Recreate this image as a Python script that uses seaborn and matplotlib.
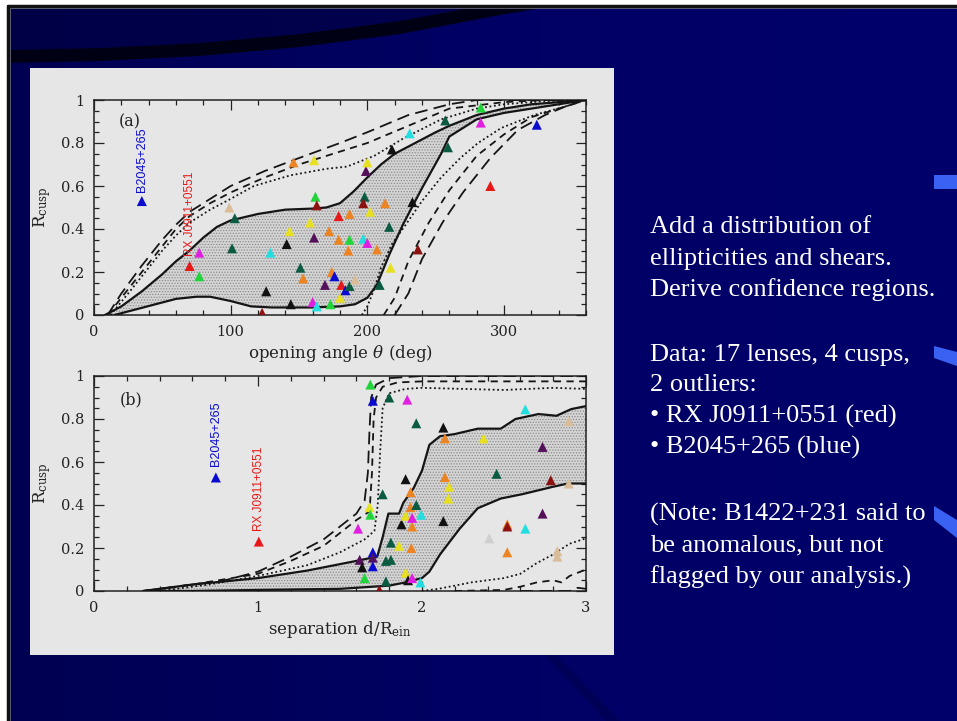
import numpy as np
import pandas as pd
import matplotlib
matplotlib.use("Agg")
import matplotlib.pyplot as plt
from matplotlib.patches import Rectangle, Polygon
from matplotlib.ticker import MultipleLocator
import seaborn as sns

# ---------------- data: panel (a), opening angle ----------------
theta_upper_solid = [8, 20, 35, 50, 60, 70, 80, 90, 100, 120, 140, 160, 170, 180, 190, 200, 210, 220, 235, 250, 260, 280, 300, 320, 340, 360]
r_upper_solid = [0.0, 0.04, 0.11, 0.19, 0.25, 0.30, 0.36, 0.41, 0.44, 0.47, 0.49, 0.495, 0.50, 0.52, 0.575, 0.64, 0.70, 0.75, 0.80, 0.85, 0.88, 0.93, 0.96, 0.98, 0.99, 1.0]
theta_lower_solid = [15, 30, 45, 60, 75, 85, 100, 115, 130, 160, 180, 191, 200, 207, 216, 226, 240, 254, 260, 280, 300, 330, 360]
r_lower_solid = [0.0, 0.025, 0.05, 0.075, 0.085, 0.085, 0.065, 0.04, 0.035, 0.035, 0.04, 0.05, 0.08, 0.14, 0.28, 0.42, 0.59, 0.75, 0.83, 0.91, 0.94, 0.97, 1.0]

theta_dot_up = [12, 25, 35, 50, 60, 70, 85, 100, 117, 144, 170, 185, 205, 226, 254, 280, 300, 330, 360]
r_dot_up = [0.0, 0.10, 0.18, 0.30, 0.37, 0.43, 0.49, 0.54, 0.60, 0.65, 0.68, 0.69, 0.74, 0.82, 0.91, 0.96, 0.98, 0.995, 1.0]
theta_sdash_up = [10, 20, 35, 50, 60, 70, 85, 100, 125, 150, 180, 200, 230, 260, 300, 330, 360]
r_sdash_up = [0.0, 0.08, 0.20, 0.32, 0.40, 0.46, 0.52, 0.57, 0.64, 0.70, 0.76, 0.80, 0.88, 0.96, 0.99, 1.0, 1.0]
theta_ldash_up = [10, 20, 35, 50, 60, 70, 85, 100, 125, 150, 180, 200, 230, 260, 280, 330, 360]
r_ldash_up = [0.0, 0.10, 0.23, 0.35, 0.42, 0.48, 0.54, 0.60, 0.67, 0.73, 0.80, 0.85, 0.93, 0.98, 1.0, 1.0, 1.0]

theta_dot_lo = [196, 200, 205, 210, 218, 227, 240, 254, 268, 281, 298, 322, 345, 360]
r_dot_lo = [0.0, 0.04, 0.12, 0.22, 0.33, 0.41, 0.53, 0.64, 0.73, 0.80, 0.87, 0.93, 0.97, 1.0]
theta_sdash_lo = [212, 220, 230, 245, 260, 280, 300, 320, 340, 355]
r_sdash_lo = [0.0, 0.08, 0.25, 0.43, 0.58, 0.74, 0.84, 0.92, 0.96, 0.99]
theta_ldash_lo = [220, 230, 240, 255, 270, 290, 310, 330, 345, 355]
r_ldash_lo = [0.0, 0.10, 0.26, 0.43, 0.57, 0.73, 0.86, 0.93, 0.97, 0.99]

theta_pts = [35, 70, 77, 77, 99, 103, 101, 129, 126, 123, 143, 141, 151, 153, 144, 146, 161, 158, 162, 163,
             161, 160, 163, 172, 174, 169, 176, 173, 179, 179, 181, 180, 184, 187, 187, 187, 186, 191, 198, 197,
             199, 200, 197, 200, 202, 213, 207, 216, 218, 209, 217, 233, 237, 231, 257, 259, 283, 283, 290, 324]
r_pts_a = [0.53, 0.228, 0.29, 0.18, 0.50, 0.45, 0.31, 0.29, 0.11, 0.01, 0.39, 0.33, 0.22, 0.17, 0.05, 0.71, 0.72, 0.43, 0.55, 0.51,
           0.36, 0.06, 0.04, 0.39, 0.20, 0.14, 0.18, 0.05, 0.46, 0.35, 0.14, 0.08, 0.115, 0.135, 0.47, 0.35, 0.30, 0.165, 0.55, 0.52,
           0.67, 0.71, 0.355, 0.335, 0.48, 0.52, 0.305, 0.41, 0.77, 0.14, 0.22, 0.525, 0.305, 0.845, 0.905, 0.78, 0.965, 0.895, 0.60, 0.885]
col_a = ["blue", "red", "magenta", "green", "tan", "dkgreen", "dkgreen", "cyan", "black", "dkred",
         "yellow", "black", "dkgreen", "orange", "black", "orange", "yellow", "yellow", "green", "dkred",
         "purple", "magenta", "cyan", "orange", "orange", "purple", "blue", "green", "red", "orange",
         "red", "yellow", "blue", "dkgreen", "orange", "green", "orange", "tan", "dkgreen", "dkred",
         "purple", "yellow", "cyan", "magenta", "yellow", "orange", "orange", "dkgreen", "black", "dkgreen",
         "yellow", "black", "dkred", "cyan", "dkgreen", "dkgreen", "green", "magenta", "red", "blue"]

# ---------------- data: panel (b), separation ----------------
d_upper_solid = [0.3, 0.45, 0.6, 0.8, 1.0, 1.3, 1.6, 1.727, 1.76, 1.795, 1.86, 1.886, 1.95, 2.0, 2.045, 2.11, 2.2, 2.34, 2.48, 2.57, 2.71, 2.82, 2.91, 3.0]
r_upper_solid_b = [0.0, 0.015, 0.03, 0.045, 0.06, 0.095, 0.14, 0.16, 0.25, 0.36, 0.36, 0.41, 0.48, 0.56, 0.68, 0.72, 0.73, 0.755, 0.755, 0.80, 0.823, 0.815, 0.846, 0.86]
d_lower_solid = [0.3, 0.6, 1.0, 1.5, 1.8, 1.9, 2.0, 2.045, 2.11, 2.23, 2.34, 2.48, 2.61, 2.8, 2.89, 3.0]
r_lower_solid_b = [0.0, 0.0, 0.005, 0.01, 0.025, 0.04, 0.06, 0.09, 0.17, 0.29, 0.385, 0.43, 0.45, 0.485, 0.50, 0.50]

d_ldash_up = [0.3, 0.5, 0.8, 1.0, 1.2, 1.4, 1.5, 1.6, 1.65, 1.67, 1.68, 1.69, 1.72, 1.8, 2.0, 2.5, 3.0]
r_ldash_up_b = [0.0, 0.02, 0.05, 0.09, 0.16, 0.24, 0.30, 0.36, 0.42, 0.55, 0.75, 0.90, 0.96, 0.99, 1.0, 1.0, 1.0]
d_sdash_up = [0.3, 0.6, 1.0, 1.2, 1.4, 1.5, 1.6, 1.68, 1.695, 1.705, 1.72, 1.76, 1.85, 2.0, 2.5, 3.0]
r_sdash_up_b = [0.0, 0.03, 0.08, 0.14, 0.21, 0.27, 0.33, 0.37, 0.55, 0.80, 0.90, 0.95, 0.97, 0.975, 0.975, 0.975]
d_dot_up = [0.4, 0.7, 1.0, 1.3, 1.5, 1.65, 1.71, 1.73, 1.745, 1.76, 1.8, 1.9, 2.0, 2.5, 2.8, 3.0]
r_dot_up_b = [0.0, 0.03, 0.07, 0.12, 0.18, 0.24, 0.28, 0.40, 0.65, 0.85, 0.92, 0.94, 0.945, 0.935, 0.945, 0.94]

d_dot_lo = [2.0, 2.1, 2.3, 2.5, 2.6, 2.7, 2.8, 2.9, 3.0]
r_dot_lo_b = [0.0, 0.01, 0.04, 0.06, 0.08, 0.13, 0.17, 0.22, 0.245]
d_sdash_lo = [2.2, 2.5, 2.6, 2.7, 2.8, 2.85, 2.9, 3.0]
r_sdash_lo_b = [0.0, 0.005, 0.02, 0.04, 0.05, 0.04, 0.07, 0.10]
d_ldash_lo = [2.6, 2.9, 2.95, 3.0]
r_ldash_lo_b = [0.0, 0.0, 0.015, 0.01]

d_pts = [0.743, 1.005, 1.61, 1.62, 1.635, 1.65, 1.68, 1.685, 1.685, 1.70, 1.70, 1.70, 1.70, 1.74, 1.76, 1.78, 1.81, 1.81, 1.78, 1.80,
         1.86, 1.875, 1.90, 1.965, 1.91, 1.93, 1.90, 1.93, 1.94, 1.94, 1.935, 1.90, 1.915, 1.94, 1.965, 1.995, 1.99, 2.13, 2.14, 2.13,
         2.14, 2.165, 2.16, 2.375, 2.455, 2.41, 2.52, 2.52, 2.52, 2.63, 2.63, 2.735, 2.735, 2.785, 2.895, 2.895, 2.825, 2.825]
r_pts_b = [0.528, 0.23, 0.29, 0.145, 0.11, 0.06, 0.39, 0.355, 0.96, 0.885, 0.18, 0.155, 0.115, 0.005, 0.45, 0.14, 0.145, 0.225, 0.045, 0.90,
           0.21, 0.31, 0.52, 0.78, 0.89, 0.46, 0.35, 0.39, 0.30, 0.34, 0.20, 0.085, 0.05, 0.06, 0.40, 0.355, 0.04, 0.76, 0.71, 0.325,
           0.53, 0.485, 0.43, 0.71, 0.545, 0.245, 0.31, 0.30, 0.18, 0.845, 0.29, 0.67, 0.36, 0.515, 0.79, 0.50, 0.185, 0.16]
col_b = ["blue", "red", "magenta", "purple", "black", "green", "yellow", "green", "green", "blue",
         "blue", "purple", "blue", "dkred", "dkgreen", "dkgreen", "dkgreen", "dkgreen", "dkgreen", "dkgreen",
         "yellow", "black", "black", "dkgreen", "magenta", "orange", "yellow", "orange", "orange", "magenta",
         "orange", "yellow", "black", "magenta", "dkgreen", "cyan", "cyan", "black", "orange", "black",
         "orange", "yellow", "yellow", "yellow", "dkgreen", "lgray", "orange", "dkred", "orange", "cyan",
         "cyan", "purple", "purple", "dkred", "tan", "tan", "tan", "tan"]

palette = {"blue": "#0a0ad0", "red": "#e81818", "magenta": "#e020e0", "green": "#22d43c", "tan": "#d9bd98",
           "dkgreen": "#0b5a42", "cyan": "#22dede", "black": "#111111", "dkred": "#8c1212", "yellow": "#e6e020",
           "orange": "#ec8424", "purple": "#55105a", "lgray": "#cfcfcf"}

# ---------------- figure ----------------
sns.set_style("ticks")
plt.rcParams["font.family"] = ["DejaVu Serif"]
plt.rcParams["mathtext.fontset"] = "dejavuserif"
plt.rcParams["hatch.linewidth"] = 0.6

W, H = 957, 721
fig = plt.figure(figsize=(W / 100, H / 100), dpi=100, facecolor="white")

# slide background
bg = fig.add_axes([0, 0, 1, 1], zorder=-10)
bg.set_xlim(0, W)
bg.set_ylim(H, 0)
bg.axis("off")
grad = np.linspace(0, 1, 256).reshape(1, -1)
bg.imshow(grad, extent=[7, W, H, 5], aspect="auto", cmap=matplotlib.colors.LinearSegmentedColormap.from_list(
    "slide", ["#000052", "#000064", "#00006c"]))
bg.add_patch(Polygon([(7, 5), (520, 5), (470, 10), (400, 22), (300, 34), (200, 43), (100, 48), (7, 50)],
                     closed=True, fc="#000040", ec="none", alpha=0.6))
bg.add_patch(Polygon([(7, 50), (100, 48), (200, 43), (300, 34), (400, 21), (480, 6), (500, 5), (560, 5),
                      (500, 15), (400, 34), (300, 47), (200, 56), (100, 61), (7, 63)],
                     closed=True, fc="#000014", ec="none"))
bg.add_patch(Polygon([(545, 655), (556, 655), (620, 721), (606, 721)], closed=True, fc="#00004c",
                     ec="none", alpha=0.6))
for wedge in ([(934, 175), (957, 175), (957, 189), (934, 189)],
              [(934, 346), (957, 352), (957, 366), (934, 358)],
              [(934, 506), (957, 520), (957, 538), (934, 520)]):
    bg.add_patch(Polygon(wedge, closed=True, fc="#3a62f2", ec="none"))
bg.plot([8, 8, W], [H, 6, 6], color="#111111", lw=2.5, solid_capstyle="butt")
bg.plot([10, 10, W], [H, 8, 8], color="#6a6a7a", lw=0.6)

# light grey picture panel
fig.add_artist(Rectangle((30 / W, 1 - 655 / H), 584 / W, 587 / H, transform=fig.transFigure,
                         fc="#e6e6e6", ec="none", zorder=-5))

ax_a = fig.add_axes([94 / W, 1 - 315 / H, 492 / W, 215 / H])
ax_b = fig.add_axes([94 / W, 1 - 591 / H, 492 / W, 215 / H])


def style_axis(ax, xmax, xmaj, xmin):
    ax.set_facecolor("#e6e6e6")
    ax.set_xlim(0, xmax)
    ax.set_ylim(0, 1)
    ax.xaxis.set_major_locator(MultipleLocator(xmaj))
    ax.xaxis.set_minor_locator(MultipleLocator(xmin))
    ax.yaxis.set_major_locator(MultipleLocator(0.2))
    ax.yaxis.set_minor_locator(MultipleLocator(0.05))
    ax.tick_params(which="both", direction="in", top=True, right=True, color="#222222", width=0.9)
    ax.tick_params(which="major", length=7, labelsize=10.5, pad=7, labelcolor="#222222")
    ax.tick_params(which="minor", length=3.5)
    for s in ax.spines.values():
        s.set_linewidth(1.1)
        s.set_color("#222222")
    ax.yaxis.set_major_formatter(matplotlib.ticker.FuncFormatter(lambda v, p: "%g" % round(v, 2)))
    ax.xaxis.set_major_formatter(matplotlib.ticker.FuncFormatter(lambda v, p: "%g" % round(v, 2)))
    ax.set_ylabel(r"R$_{\rm cusp}$", fontsize=12, color="#222222", labelpad=6)


def draw_curve(ax, x, y, ls):
    sns.lineplot(x=x, y=y, ax=ax, color="#151515", lw=1.6 if ls == "-" else 1.3, linestyle=ls,
                 estimator=None, sort=False, legend=False, zorder=3)


def draw_band(ax, xu, yu, xl, yl):
    poly = list(zip(xu, yu)) + list(zip(xl[::-1], yl[::-1]))
    ax.add_patch(Polygon(poly, closed=True, fc="#d4d4d4", ec="#8c8c8c", hatch="......", lw=0, zorder=1))


dense_dots = (0, (1, 1.5))
long_dash = (0, (7, 3.5))
short_dash = (0, (4, 3))

# panel (a)
style_axis(ax_a, 360, 100, 20)
draw_band(ax_a, theta_upper_solid, r_upper_solid, theta_lower_solid, r_lower_solid)
draw_curve(ax_a, theta_upper_solid, r_upper_solid, "-")
draw_curve(ax_a, theta_lower_solid, r_lower_solid, "-")
draw_curve(ax_a, theta_dot_up, r_dot_up, dense_dots)
draw_curve(ax_a, theta_dot_lo, r_dot_lo, dense_dots)
draw_curve(ax_a, theta_sdash_up, r_sdash_up, short_dash)
draw_curve(ax_a, theta_sdash_lo, r_sdash_lo, short_dash)
draw_curve(ax_a, theta_ldash_up, r_ldash_up, long_dash)
draw_curve(ax_a, theta_ldash_lo, r_ldash_lo, long_dash)
df_a = pd.DataFrame({"x": theta_pts, "y": r_pts_a, "c": col_a})
sns.scatterplot(data=df_a, x="x", y="y", hue="c", palette=palette, marker="^", s=52, linewidth=0,
                ax=ax_a, legend=False, zorder=5)
ax_a.set_xlabel(r"opening angle $\theta$ (deg)", fontsize=12, color="#222222", labelpad=3)
ax_a.text(18, 0.9, "(a)", fontsize=11.5, color="#222222", va="center")
ax_a.text(theta_pts[0], 0.57, "B2045+265", rotation=90, ha="center", va="bottom", color=palette["blue"],
          fontsize=9, family="Liberation Sans")
ax_a.text(theta_pts[1], 0.275, "RX J0911+0551", rotation=90, ha="center", va="bottom", color=palette["red"],
          fontsize=8.5, family="Liberation Sans")

# panel (b)
style_axis(ax_b, 3, 1, 0.2)
draw_band(ax_b, d_upper_solid, r_upper_solid_b, d_lower_solid, r_lower_solid_b)
draw_curve(ax_b, d_upper_solid, r_upper_solid_b, "-")
draw_curve(ax_b, d_lower_solid, r_lower_solid_b, "-")
draw_curve(ax_b, d_dot_up, r_dot_up_b, dense_dots)
draw_curve(ax_b, d_dot_lo, r_dot_lo_b, dense_dots)
draw_curve(ax_b, d_sdash_up, r_sdash_up_b, short_dash)
draw_curve(ax_b, d_sdash_lo, r_sdash_lo_b, short_dash)
draw_curve(ax_b, d_ldash_up, r_ldash_up_b, long_dash)
draw_curve(ax_b, d_ldash_lo, r_ldash_lo_b, long_dash)
df_b = pd.DataFrame({"x": d_pts, "y": r_pts_b, "c": col_b})
sns.scatterplot(data=df_b, x="x", y="y", hue="c", palette=palette, marker="^", s=52, linewidth=0,
                ax=ax_b, legend=False, zorder=5)
ax_b.set_xlabel(r"separation d/R$_{\rm ein}$", fontsize=12, color="#222222", labelpad=3)
ax_b.text(0.16, 0.89, "(b)", fontsize=11.5, color="#222222", va="center")
ax_b.text(d_pts[0], 0.58, "B2045+265", rotation=90, ha="center", va="bottom", color=palette["blue"],
          fontsize=9, family="Liberation Sans")
ax_b.text(d_pts[1], 0.28, "RX J0911+0551", rotation=90, ha="center", va="bottom", color=palette["red"],
          fontsize=8.5, family="Liberation Sans")

# slide text
slide_lines = [
    ("Add a distribution of", 227),
    ("ellipticities and shears.", 259),
    ("Derive confidence regions.", 290),
    ("Data: 17 lenses, 4 cusps,", 355),
    ("2 outliers:", 385),
    ("\u2022 RX J0911+0551 (red)", 416),
    ("\u2022 B2045+265 (blue)", 447),
    ("(Note: B1422+231 said to", 514),
    ("be anomalous, but not", 545),
    ("flagged by our analysis.)", 577),
]
for txt, ypx in slide_lines:
    fig.text(650 / W, 1 - ypx / H, txt, color="white", fontsize=19, family="Liberation Serif",
             ha="left", va="center")

fig.savefig("out.png", dpi=100, facecolor=fig.get_facecolor())
